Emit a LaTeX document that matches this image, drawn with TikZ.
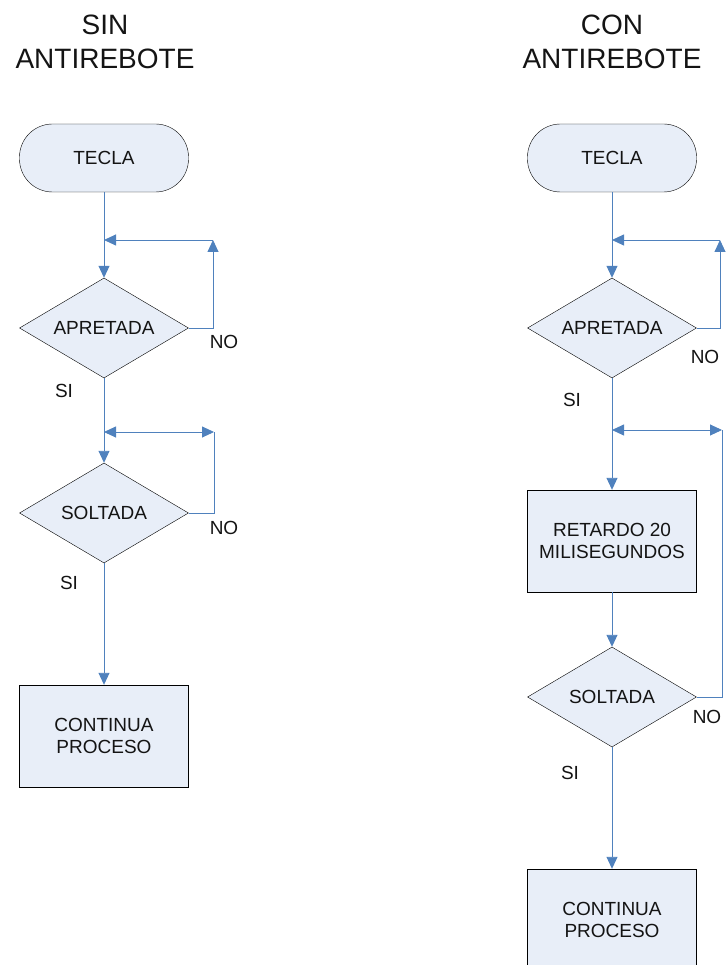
\documentclass[tikz,border=0pt]{standalone}
\usepackage{fontspec}
\setmainfont{Liberation Sans}
\usepackage{tikz}
\usetikzlibrary{arrows.meta,positioning,shapes.geometric}
\definecolor{flow}{RGB}{79,129,189}
\definecolor{boxfill}{RGB}{232,238,248}
\definecolor{ink}{RGB}{20,20,20}

\begin{document}
\begin{tikzpicture}[x=1pt,y=-1pt,>={Triangle[length=12pt,width=11pt]},
  txt/.style={font=\fontsize{19}{22}\selectfont,text=ink},
  title/.style={font=\fontsize{28}{34}\selectfont,align=center,text=ink},
  term/.style={txt,draw=black,fill=boxfill,rectangle,rounded corners=33pt,minimum width=169pt,minimum height=68pt,inner sep=0pt},
  decision/.style={txt,draw=black,fill=boxfill,diamond,aspect=2,minimum width=169pt,minimum height=100pt,inner sep=0pt},
  process/.style={txt,draw=black,fill=boxfill,rectangle,minimum width=169pt,minimum height=102pt,align=center,inner sep=0pt},
  link/.style={flow,line width=0.9pt}]
 \useasboundingbox (0,0) rectangle (725,965);
 % titles
 \node[title] (titleA) at (105,42) {SIN\\ANTIREBOTE};
 \node[title] (titleB) at (612,42) {CON\\ANTIREBOTE};
 % left: sin antirebote
 \node[term] (keyA) at (104,158) {TECLA};
 \node[decision] (pressA) at (104,328) {APRETADA};
 \node[decision] (relA) at (104,513) {SOLTADA};
 \node[process] (goA) at (104,736) {CONTINUA\\PROCESO};
 \coordinate (mA1) at (104,240);
 \coordinate (cA1) at (213,240);
 \coordinate (mA2) at (104,432);
 \coordinate (cA2) at (214,432);
 \draw[link] (keyA.south) -- (mA1);
 \draw[link,->] (mA1) -- (pressA.north);
 \draw[link,->] (pressA.east) -| (cA1);
 \draw[link,->] (cA1) -- (mA1);
 \draw[link] (pressA.south) -- (mA2);
 \draw[link,->] (mA2) -- (relA.north);
 \draw[link] (relA.east) -| (cA2);
 \draw[link,<->] (mA2) -- (cA2);
 \draw[link,->] (relA.south) -- (goA.north);
 \node[txt] (noA1) at (224,342) {NO};
 \node[txt] (siA1) at (64,391) {SI};
 \node[txt] (noA2) at (224,528) {NO};
 \node[txt] (siA2) at (69,583) {SI};
 % right: con antirebote
 \node[term] (keyB) at (612,158) {TECLA};
 \node[decision] (pressB) at (612,328) {APRETADA};
 \node[process] (waitB) at (612,541) {RETARDO 20\\MILISEGUNDOS};
 \node[decision] (relB) at (612,697) {SOLTADA};
 \node[process] (goB) at (612,920) {CONTINUA\\PROCESO};
 \coordinate (mB1) at (612,240);
 \coordinate (cB1) at (720,240);
 \coordinate (mB2) at (612,430);
 \coordinate (cB2) at (722,430);
 \draw[link] (keyB.south) -- (mB1);
 \draw[link,->] (mB1) -- (pressB.north);
 \draw[link,->] (pressB.east) -| (cB1);
 \draw[link,->] (cB1) -- (mB1);
 \draw[link] (pressB.south) -- (mB2);
 \draw[link,->] (mB2) -- (waitB.north);
 \draw[link,->] (waitB.south) -- (relB.north);
 \draw[link] (relB.east) -| (cB2);
 \draw[link,<->] (mB2) -- (cB2);
 \draw[link,->] (relB.south) -- (goB.north);
 \node[txt] (noB1) at (705,357) {NO};
 \node[txt] (siB1) at (572,400) {SI};
 \node[txt] (noB2) at (707,717) {NO};
 \node[txt] (siB2) at (570,773) {SI};
\end{tikzpicture}
\end{document}
